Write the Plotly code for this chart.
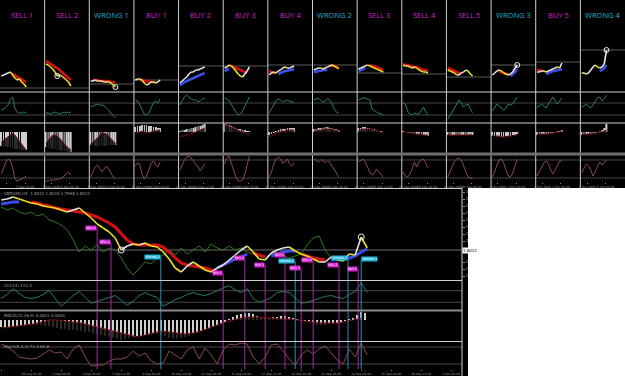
import plotly.graph_objects as go

W, H = 625, 376
NP = 14
PW = W / NP

# ---------------- data: 14 small signal snapshots ----------------
titles = ["SELL 1", "SELL 2", "WRONG 1", "BUY 1", "BUY 2", "BUY 3", "BUY 4",
          "WRONG 2", "SELL 3", "SELL 4", "SELL 5", "WRONG 3", "BUY 5", "WRONG 4"]

panel_price = [
    [16, 17, 18, 19, 20, 17, 14, 12, 13, 10, 8, 5],
    [28, 27, 25, 23, 20, 16, 17, 16, 14, 12, 10, 6],
    [11, 11, 12, 11, 11, 11, 10, 10, 10, 9, 7, 5],
    [12, 13, 13, 12, 9, 7, 8, 10, 10, 9, 10, 12],
    [9, 11, 13, 15, 18, 20, 20, 22, 22, 23, 24, 25],
    [24, 25, 27, 26, 24, 21, 18, 16, 15, 18, 21, 25],
    [17, 19, 20, 19, 21, 22, 24, 25, 24, 24, 25, 26],
    [22, 23, 24, 24, 23, 24, 25, 26, 27, 26, 25, 23],
    [23, 24, 25, 26, 27, 26, 25, 24, 23, 22, 21, 20],
    [27, 26, 26, 25, 24, 25, 24, 22, 21, 20, 20, 19],
    [22, 21, 20, 19, 17, 17, 19, 20, 22, 21, 18, 16],
    [17, 19, 21, 22, 21, 19, 18, 17, 18, 20, 24, 27],
    [20, 20, 21, 21, 20, 21, 22, 23, 24, 25, 24, 29],
    [19, 19, 18, 19, 22, 25, 27, 25, 24, 25, 28, 42],
]
N = None
panel_ma_dn = [
    [N, N, N, N, N, 18, 17, 15, 14, 13, 11, 10],
    [31, 30, 28, 27, 25, 24, 22, 20, 18, 16, 14, 12],
    [N, 12, 12, 12, 11, 11, 11, 11, 11, 10, 10, 10],
    [N, N, 12, 12, 11, 11, 10, 10, 10, 10, N, N],
    [N] * 12,
    [N, N, N, 26, 25, 24, 23, 22, 21, 20, 19, N],
    [21, 20, 19, 19, N, N, N, N, N, N, N, N],
    [N, N, N, N, N, N, N, 27, 26, 26, 25, 24],
    [N, N, N, N, N, 27, 26, 26, 25, 24, 23, 22],
    [28, 27, 27, 26, 26, 25, 25, 24, 23, 22, 22, 21],
    [24, 23, 22, 21, 20, 19, 19, N, N, N, N, N],
    [N, N, N, 20, 20, 19, 18, 18, N, N, N, N],
    [22, 22, 21, 21, N, N, N, N, N, N, N, N],
    [N] * 12,
]
panel_ma_up = [
    [N] * 12,
    [N] * 12,
    [N] * 12,
    [N] * 12,
    [7, 8, 10, 11, 12, 13, 14, 15, 16, 17, 18, 19],
    [21, 22, 23, N, N, N, N, N, N, N, N, N],
    [N, N, N, N, 18, 19, 20, 21, 21, 22, 22, 23],
    [20, 20, 21, 21, 22, 22, 22, N, N, N, N, N],
    [21, 22, 23, 24, N, N, N, N, N, N, N, N],
    [N] * 12,
    [N] * 12,
    [N, N, N, N, N, N, N, N, 16, 18, 20, 23],
    [N, N, N, N, 18, 19, 20, 21, 21, 22, 22, 23],
    [N, N, N, N, N, N, N, N, 21, 22, 24, 27],
]
panel_level = [4, 4, 8, 12, 26, 26, 27, 27, 19, 18, 15, 27, 30, 42]
panel_circle = [N, 5, 11, N, N, N, N, N, N, N, N, 11, N, 11]
panel_osc = [
    [13, 14, 16, 18, 24, 26, 15, 11, 10, 10, 11, 10],
    [10, 10, 9, 10, 11, 10, 9, 10, 11, 10, 11, 10],
    [16, 17, 18, 19, 18, 18, 17, 15, 13, 10, 7, 5],
    [23, 22, 18, 14, 9, 8, 10, 15, 20, 22, 20, 24],
    [18, 22, 26, 28, 26, 24, 23, 23, 21, 22, 24, 25],
    [25, 24, 22, 18, 14, 11, 8, 9, 12, 17, 22, 26],
    [10, 14, 19, 22, 24, 23, 21, 22, 23, 22, 21, 21],
    [23, 24, 25, 23, 21, 22, 24, 23, 20, 14, 11, 10],
    [23, 24, 25, 25, 24, 23, 14, 12, 11, 10, 9, 8],
    [20, 19, 12, 9, 8, 10, 9, 9, 12, 16, 11, 8],
    [4, 7, 11, 15, 19, 23, 20, 16, 18, 19, 14, 10],
    [12, 15, 19, 17, 15, 13, 15, 19, 18, 19, 23, 26],
    [16, 17, 19, 17, 15, 19, 23, 26, 22, 19, 22, 25],
    [16, 17, 19, 17, 15, 18, 22, 25, 26, 22, 24, 28],
]
panel_hist = [
    [-14, -15, -15, -15, -16, -16, -17, -17, -18, -18, -18, -18],
    [-15, -16, -16, -17, -17, -18, -18, -19, -19, -19, -20, -20],
    [-13, -13, -14, -14, -14, -14, -14, -14, -13, -13, -13, -13],
    [5, 6, 6, 7, 7, 7, 6, 6, 5, 5, 4, 4],
    [1, 2, 2, 3, 3, 4, 4, 5, 6, 6, 7, 8],
    [8, 8, 7, 6, 5, 4, 3, 3, 2, 2, 1, 1],
    [-3, -2, -1, 1, 2, 3, 3, 3, 4, 4, 4, 4],
    [3, 3, 4, 4, 4, 5, 5, 4, 4, 3, 3, 2],
    [4, 4, 5, 5, 4, 4, 3, 3, 2, 1, 1, 0],
    [1, 0, -1, -1, -2, -2, -3, -3, -3, -3, -4, -4],
    [-3, -4, -4, -3, -3, -3, -3, -3, -3, -3, -2, -3],
    [-4, -4, -5, -5, -5, -5, -4, -4, -4, -3, -3, -2],
    [-3, -3, -3, -2, -2, -2, -1, -1, 0, 1, 1, 2],
    [-3, -3, -3, -2, -2, -1, -1, 0, 1, 2, 4, 8],
]
panel_signal = [
    [-10, -8, -6, -4, -2, -1, -3, -6, -9, -12, -15, -18],
    [-11, -8, -5, -3, -3, -4, -6, -9, -12, -14, -16, -18],
    [-12, -10, -8, -6, -3, -1, -1, -2, -4, -7, -9, -11],
    [-2, -1, 0, 1, 0, -1, -1, 0, 1, 1, 2, 2],
    [-5, -4, -4, -3, -2, -2, -1, 0, 1, 2, 3, 4],
    [7, 7, 6, 5, 4, 3, 2, 1, 0, -1, -2, -3],
    [-4, -4, -3, -2, -1, 0, 1, 1, 2, 2, 2, 2],
    [1, 1, 2, 2, 2, 3, 3, 3, 3, 2, 2, 2],
    [2, 2, 3, 3, 3, 3, 3, 2, 2, 1, 0, -1],
    [0, 0, 0, -1, -1, -1, -2, -2, -2, -3, -3, -3],
    [-2, -3, -3, -3, -3, -3, -3, -3, -3, -3, -3, -3],
    [-3, -4, -4, -4, -5, -5, -5, -4, -4, -4, -3, -3],
    [-2, -2, -2, -2, -2, -2, -1, -1, -1, 0, 0, 1],
    [-2, -2, -2, -2, -2, -2, -1, -1, 0, 0, 1, 2],
]
panel_stoch = [
    [8, 14, 20, 23, 22, 14, 3, 1, 2, 3, 4, 6],
    [1, 1, 2, 2, 2, 3, 3, 4, 6, 9, 10, 7],
    [5, 10, 15, 17, 14, 10, 13, 16, 13, 9, 5, 3],
    [16, 19, 18, 8, 3, 6, 12, 18, 21, 17, 15, 20],
    [12, 17, 22, 25, 26, 24, 21, 19, 15, 11, 14, 18],
    [18, 24, 26, 20, 12, 5, 1, 1, 2, 8, 18, 26],
    [5, 10, 18, 23, 25, 23, 19, 20, 23, 18, 16, 19],
    [23, 22, 20, 22, 22, 19, 21, 20, 16, 13, 9, 5],
    [20, 22, 23, 20, 15, 10, 7, 9, 13, 10, 7, 5],
    [10, 6, 5, 8, 13, 20, 15, 20, 22, 23, 19, 14],
    [5, 10, 16, 21, 23, 24, 22, 16, 10, 5, 4, 3],
    [5, 10, 17, 22, 23, 19, 12, 6, 5, 9, 16, 23],
    [6, 10, 15, 19, 21, 18, 12, 8, 12, 17, 21, 21],
    [9, 13, 18, 16, 12, 6, 10, 16, 20, 17, 19, 22],
]
panel_dates = [
    ["4 Sep 2008", "5 Sep 04:00"], ["5 Sep 2008", "8 Sep 08:00"],
    ["9 Sep 2008", "10 Sep 04:00"], ["15 Sep 2008", "16 Sep 08:00"],
    ["17 Sep 2008", "18 Sep 12:00"], ["18 Sep 2008", "19 Sep 16:00"],
    ["22 Sep 2008", "23 Sep 04:00"], ["23 Sep 2008", "24 Sep 08:00"],
    ["24 Sep 2008", "25 Sep 12:00"], ["25 Sep 2008", "26 Sep 04:00"],
    ["29 Sep 2008", "30 Sep 08:00"], ["1 Oct 2008", "2 Oct 04:00"],
    ["2 Oct 2008", "3 Oct 08:00"], ["3 Oct 2008", "6 Oct 04:00"],
]

# ---------------- data: main chart ----------------
big_price = [80, 81, 83, 81, 79, 77, 76, 74, 73, 72,
             70, 68, 70, 72, 67, 62, 56, 52, 48, 42,
             30, 34, 36, 35, 37, 34, 33, 28, 21, 12,
             8, 14, 18, 14, 10, 8, 12, 15, 20, 25,
             30, 34, 28, 21, 20, 27, 30, 32, 33, 29,
             26, 24, 21, 18, 18, 23, 20, 19, 26, 25,
             43, 32]
big_ma_dn = ([N] * 5 +
             [78, 77, 75, 74, 72, 71, 70, 69, 68, 67, 65, 63, 60, 57, 53, 47,
              40, 36, 35, 35, 35, 35, 33, 28, 22, 17, 15, 14, 13, 12, 10, 9] +
             [N] * 5 + [27, 25, 23] + [N] * 5 + [26, 24, 22, 21, 20] + [N] * 7)
big_ma_up = ([76, 77, 78, 78] + [N] * 32 + [12, 15, 18, 21, 23, 26] + [N] * 3 +
             [24, 26, 28, 29, 29] + [N] * 5 + [20, 21, 21, 22, 24, 28, 31])
big_green = [73, 70, 72, 68, 66, 68, 64, 66, 60, 58,
             55, 50, 40, 28, 34, 30, 35, 28, 32, 30,
             22, 12, 5, 12, 18, 16, 22, 25, 30, 25,
             32, 26, 30, 34, 28, 36, 32, 30, 34, 30,
             32, 28, 26, 24, 22, 26, 28, 24, 22, 24,
             26, 35, 42, 44, 30, 22]
big_level = 30
big_circles = [20, 60]
big_osc = [12, 16, 22, 17, 13, 12, 13, 16, 20, 12,
           4, 9, 15, 19, 13, 7, 9, 11, 13, 15,
           10, 5, 9, 15, 18, 15, 13, 4, 7, 11,
           13, 16, 18, 16, 15, 17, 20, 23, 25, 21,
           18, 22, 12, 8, 10, 13, 18, 19, 18, 12,
           7, 8, 10, 12, 14, 15, 13, 12, 16, 19,
           28, 18]
big_hist = [-7, -8, -8, -7, -7, -6, -6, -5, -5, -5,
            -5, -6, -6, -7, -8, -9, -9, -10, -10, -11,
            -11, -12, -12, -13, -14, -15, -16, -17, -18, -19,
            -20, -19, -18, -17, -16, -16, -15, -15, -14, -14,
            -15, -16, -18, -19, -19, -18, -17, -16, -14, -13,
            -11, -10, -9, -7, -6, -4, -2, 1, 3, 5,
            6, 7, 7, 6, 4, 2, 1, 2, 3, 3,
            4, 4, 3, 2, 1, -1, -2, -3, -4, -5,
            -5, -5, -4, -4, -3, -2, -1, 1, 2, 5,
            8, 7]
big_signal = [-8, -7, -6, -5, -4, -2, 0, 0, -1, -2,
              -3, -5, -7, -9, -11, -13, -15, -17, -15, -13,
              -11, -12, -13, -14, -13, -11, -8, -5, -2, 0,
              2, 3, 3, 2, 2, 1, 1, 0, -1, -2,
              -3, -3, -3, -2, 0, 2]
big_stoch = [25, 22, 18, 12, 11, 10, 11, 15, 19, 16,
             17, 10, 20, 24, 12, 3, 4, 4, 8, 10,
             10, 12, 18, 13, 16, 8, 5, 6, 18, 14,
             10, 19, 22, 10, 21, 14, 5, 19, 25, 24,
             26, 25, 12, 5, 12, 24, 25, 18, 10, 4,
             14, 19, 15, 20, 23, 16, 9, 5, 20, 12,
             26, 14]
sig_bar = [16.0, 18.3, 26.6, 37.0, 40.6, 44.0, 47.3, 49.0, 50.0, 52.0, 56.3, 57.8, 59.5, 60.0]
sig_top = [52, 38, 23, 7, 22, 15, 25, 19, 12, 20, 15, 22, 11, 21]
sig_side = ["right"] * 13 + ["left"]
price_tick_vals = [4, 11, 18, 39, 46, 53, 60, 67, 74, 81, 88]
price_tick_text = ["1.7650", "1.7750", "1.7850", "1.8150", "1.8250",
                   "1.8350", "1.8450", "1.8550", "1.8650", "1.8750", "1.8850"]
last_price_text = "1.8021"
big_date_vals = [0, 5, 10, 15, 20, 25, 30, 35, 40, 45, 50, 55, 60, 65, 70, 75]
big_date_text = ["28 Aug 2008", "29 Aug 16:00", "2 Sep 08:00", "3 Sep 20:00", "5 Sep 12:00",
                 "9 Sep 04:00", "10 Sep 16:00", "12 Sep 08:00", "15 Sep 20:00", "17 Sep 12:00",
                 "19 Sep 04:00", "22 Sep 16:00", "24 Sep 08:00", "25 Sep 20:00", "29 Sep 12:00",
                 "1 Oct 04:00"]

# ---------------- styling ----------------
MAG = "#d023d0"
CYA = "#20b2d6"
VMAG = "#a42aa4"
VCYA = "#2592b4"
WHITE = "#e6e6e6"
YEL = "#eee21c"
RED = "#d01212"
BLUE = "#3c4ee6"
GREEN = "#2c7a1c"
OSC = "#2d7a70"
BARC = "#cfcfcf"
SIGC = "#7a1414"
STOC = "#8a4a4a"
LVL = "#474747"
SEP = "#cfcfcf"

fig = go.Figure()
lay = {}
shapes = []
annots = []
nax = [0]


def axes(xpx, ypx, xr, yr, xkw=None, ykw=None):
    nax[0] += 1
    n = nax[0]
    s = "" if n == 1 else str(n)
    base = dict(showgrid=False, zeroline=False, showticklabels=False, showline=False,
                ticks="", fixedrange=True, automargin=False)
    xa = dict(base, domain=[xpx[0] / W, xpx[1] / W], range=xr, anchor="y" + s)
    ya = dict(base, domain=[1 - ypx[1] / H, 1 - ypx[0] / H], range=yr, anchor="x" + s)
    if xkw:
        xa.update(xkw)
    if ykw:
        ya.update(ykw)
    lay["xaxis" + s] = xa
    lay["yaxis" + s] = ya
    return "x" + s, "y" + s


def line(xa, ya, xs, ys, color, width=1.0, **kw):
    fig.add_trace(go.Scatter(x=xs, y=ys, xaxis=xa, yaxis=ya, mode="lines",
                             line=dict(color=color, width=width), hoverinfo="skip",
                             showlegend=False, connectgaps=False, **kw))


def hline(xa, ya, yv, color=LVL, width=1):
    shapes.append(dict(type="line", xref=xa + " domain", x0=0, x1=1, yref=ya, y0=yv, y1=yv,
                       line=dict(color=color, width=width), layer="below"))


def price_path(xa, ya, xs, ys, width):
    ux, uy, dx, dy = [], [], [], []
    for k in range(1, len(ys)):
        if ys[k] < ys[k - 1]:
            dx += [xs[k - 1], xs[k], None]
            dy += [ys[k - 1], ys[k], None]
        else:
            ux += [xs[k - 1], xs[k], None]
            uy += [ys[k - 1], ys[k], None]
    line(xa, ya, ux, uy, WHITE, width)
    line(xa, ya, dx, dy, YEL, width)


def bars(xa, ya, xs, ys, width):
    fig.add_trace(go.Bar(x=xs, y=ys, xaxis=xa, yaxis=ya, width=width,
                         marker=dict(color=BARC, line=dict(width=0)),
                         hoverinfo="skip", showlegend=False))


def mountain(xa, ya, xs, ys, floor):
    line(xa, ya, xs, [floor] * len(xs), "rgba(0,0,0,0)", 0)
    line(xa, ya, xs, ys, SIGC, 1, fill="tonexty", fillcolor="rgba(0,0,0,0.8)")


def signal_verticals(xa, ya, y_lo, y_hi_list):
    for kind, col in (("sig", VMAG), ("wrong", VCYA)):
        vx, vy = [], []
        for s, top, name in zip(sig_bar, y_hi_list, titles):
            if name.startswith("WRONG") == (kind == "wrong"):
                vx += [s, s, None]
                vy += [top, y_lo, None]
        line(xa, ya, vx, vy, col, 1)


# ---------------- top strip ----------------
XR = [-0.6, 19.2]
for i in range(NP):
    x0, x1 = i * PW, (i + 1) * PW
    xs = list(range(len(panel_price[i])))
    # price pane
    xa, ya = axes((x0, x1), (0, 92), XR, [0, 92])
    hline(xa, ya, panel_level[i], "#5a5a5a")
    line(xa, ya, xs, panel_ma_dn[i], RED, 2.6)
    line(xa, ya, xs, panel_ma_up[i], BLUE, 2.6)
    price_path(xa, ya, xs, panel_price[i], 1.6)
    if panel_circle[i] is not None:
        c = panel_circle[i]
        fig.add_trace(go.Scatter(x=[c], y=[panel_price[i][c]], xaxis=xa, yaxis=ya, mode="markers",
                                 marker=dict(symbol="circle-open", size=5, color="#f0f0f0",
                                             line=dict(width=1)),
                                 hoverinfo="skip", showlegend=False))
    col = CYA if titles[i].startswith("WRONG") else MAG
    annots.append(dict(text=titles[i], xref="paper", yref="paper", x=(x0 + x1) / 2 / W,
                       y=1 - 15 / H, showarrow=False, xanchor="center", yanchor="middle",
                       font=dict(family="Open Sans", size=7.5, color=col)))
    # oscillator pane
    xa, ya = axes((x0, x1), (92, 123), XR, [0, 31])
    hline(xa, ya, 20)
    hline(xa, ya, 8)
    line(xa, ya, xs, panel_osc[i], OSC, 1)
    # histogram pane
    xa, ya = axes((x0, x1), (123, 153), XR, [-21, 9])
    bars(xa, ya, xs, panel_hist[i], 0.32)
    mountain(xa, ya, xs, panel_signal[i], -21)
    # stochastic pane
    xa, ya = axes((x0, x1), (155, 182), XR, [0, 27],
                  xkw=dict(showticklabels=True, tickvals=[2.4, 10.6], ticktext=panel_dates[i],
                           tickangle=0,
                           tickfont=dict(size=3, color="#9a9a9a", family="DejaVu Sans"),
                           ticks="outside", ticklen=1, tickcolor="#888"))
    hline(xa, ya, 22)
    hline(xa, ya, 4)
    line(xa, ya, xs, panel_stoch[i], STOC, 1)

# ---------------- main chart ----------------
BXR = [-0.2, 76.8]
bx = list(range(len(big_price)))
xa, ya = axes((0, 462), (189, 280), BXR, [0, 91],
              ykw=dict(side="right", showticklabels=True, tickvals=price_tick_vals,
                       ticktext=price_tick_text, ticks="outside", ticklen=2, tickcolor="#888",
                       tickfont=dict(size=4, color="#b0b0b0", family="DejaVu Sans")))
hline(xa, ya, big_level, "#6a6a6a")
line(xa, ya, list(range(len(big_green))), big_green, GREEN, 1)
line(xa, ya, bx, big_ma_dn, RED, 3)
line(xa, ya, bx, big_ma_up, BLUE, 3)
price_path(xa, ya, bx, big_price, 1.6)
fig.add_trace(go.Scatter(x=big_circles, y=[big_price[c] for c in big_circles], xaxis=xa, yaxis=ya,
                         mode="markers",
                         marker=dict(symbol="circle-open", size=6, color="#f0f0f0", line=dict(width=1)),
                         hoverinfo="skip", showlegend=False))
signal_verticals(xa, ya, 0, sig_top)
for s, t, name, side in zip(sig_bar, sig_top, titles, sig_side):
    col = CYA if name.startswith("WRONG") else MAG
    annots.append(dict(text=name, xref=xa, yref=ya, x=s, y=t, showarrow=False, xanchor=side,
                       yanchor="middle", bgcolor=col, borderpad=0,
                       font=dict(size=3, color="#ffffff", family="DejaVu Sans")))
annots.append(dict(text=last_price_text, xref="paper", yref=ya, x=462 / W, y=big_level,
                   showarrow=False, xanchor="left", yanchor="middle", bgcolor="#ffffff",
                   borderpad=0, font=dict(size=4, color="#000000", family="DejaVu Sans")))
annots.append(dict(text="GBPUSD,H4  1.8012 1.8034 1.7998 1.8021", xref="paper", yref="paper",
                   x=2 / W, y=1 - 189 / H, showarrow=False, xanchor="left", yanchor="top",
                   font=dict(size=4, color="#a0a0a0", family="DejaVu Sans")))

# oscillator
xa, ya = axes((0, 462), (281, 310), BXR, [0, 30])
hline(xa, ya, 20)
hline(xa, ya, 8)
line(xa, ya, bx, big_osc, OSC, 1)
signal_verticals(xa, ya, 0, [30] * len(sig_bar))
annots.append(dict(text="CCI(14) 112.4", xref="paper", yref="paper", x=2 / W, y=1 - 281 / H,
                   showarrow=False, xanchor="left", yanchor="top",
                   font=dict(size=4, color="#a0a0a0", family="DejaVu Sans")))

# histogram
xa, ya = axes((0, 462), (311, 341), BXR, [-21, 9])
hx = [k * 2 / 3 for k in range(len(big_hist))]
bars(xa, ya, hx, big_hist, 0.26)
mountain(xa, ya, [k * 4 / 3 for k in range(len(big_signal))], big_signal, -21)
signal_verticals(xa, ya, -21, [9] * len(sig_bar))
annots.append(dict(text="MACD(12,26,9) 0.0021 0.0004", xref="paper", yref="paper", x=2 / W,
                   y=1 - 311 / H, showarrow=False, xanchor="left", yanchor="top",
                   font=dict(size=4, color="#a0a0a0", family="DejaVu Sans")))

# stochastic
xa, ya = axes((0, 462), (342, 369), BXR, [0, 27],
              xkw=dict(showticklabels=True, tickvals=big_date_vals, ticktext=big_date_text,
                       tickangle=0,
                       tickfont=dict(size=3, color="#9a9a9a", family="DejaVu Sans"),
                       ticks="outside", ticklen=1, tickcolor="#888"))
hline(xa, ya, 22)
hline(xa, ya, 5)
line(xa, ya, bx, big_stoch, STOC, 1)
signal_verticals(xa, ya, 0, [27] * len(sig_bar))
annots.append(dict(text="Stoch(5,3,3) 71.3 64.8", xref="paper", yref="paper", x=2 / W,
                   y=1 - 342 / H, showarrow=False, xanchor="left", yanchor="top",
                   font=dict(size=4, color="#a0a0a0", family="DejaVu Sans")))


# ---------------- frame lines ----------------
def paper_line(x0, y0, x1, y1, color=SEP, width=1):
    shapes.append(dict(type="line", xref="paper", yref="paper", x0=x0 / W, x1=x1 / W,
                       y0=1 - y0 / H, y1=1 - y1 / H, line=dict(color=color, width=width),
                       layer="above"))


for k in range(1, NP):
    paper_line(k * PW, 0, k * PW, 188)
for yy in (92, 123):
    paper_line(0, yy, W, yy)
paper_line(0, 154, W, 154, "#6e6e6e", 3)
paper_line(0, 188.5, 462, 188.5)
paper_line(0, 280.5, 462, 280.5)
paper_line(0, 310.5, 462, 310.5, "#8a8a8a", 2)
paper_line(0, 341.5, 462, 341.5)
paper_line(462, 188, 462, 376)
shapes.append(dict(type="rect", xref="paper", yref="paper", x0=468 / W, x1=1, y0=0,
                   y1=1 - 188 / H, fillcolor="#ffffff", line=dict(width=0), layer="above"))

fig.update_layout(width=W, height=H, margin=dict(l=0, r=0, t=0, b=0, autoexpand=False),
                  paper_bgcolor="#000000", plot_bgcolor="rgba(0,0,0,0)",
                  showlegend=False, barmode="overlay", shapes=shapes, annotations=annots,
                  **lay)
fig.write_html("out.html")
